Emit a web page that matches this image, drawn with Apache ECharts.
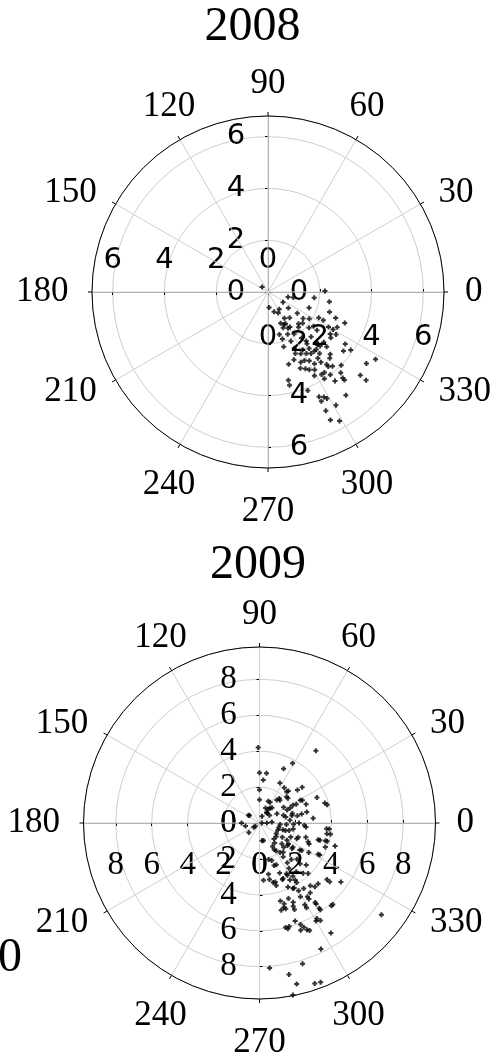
<!DOCTYPE html>
<html><head><meta charset="utf-8">
<script src="https://cdn.jsdelivr.net/npm/echarts@6/dist/echarts.min.js"></script>
<style>html,body{margin:0;padding:0;background:#fff}#c{width:495px;height:1059px}</style>
</head><body><div id="c"></div>
<script>
// ---------- data ----------
const years = ['2008', '2009'];
const angleTickStep = 30;          // degrees between spokes / angle labels
const radialTickStep = 2;          // radial ring step
const rMax2008 = 6.8;
const rMax2009 = 9.8;

const r2008 = [0.3,0.8,1.0,1.8,2.2,2.4,0.6,0.8,1.0,1.7,1.2,1.3,1.7,2.2,2.8,1.3,1.4,1.6,1.8,1.8,2.1,2.2,2.4,2.7,2.9,3.0,3.2,1.7,1.8,1.9,2.9,3.1,1.9,2.1,2.2,2.5,2.8,2.9,3.0,2.2,2.4,2.6,2.7,2.9,3.1,3.6,3.9,3.7,2.6,2.7,2.8,2.9,3.1,3.4,3.5,2.9,2.8,3.0,3.0,3.1,3.3,3.4,3.6,3.8,4.0,4.7,4.9,3.2,3.3,3.4,3.8,4.0,4.2,4.4,4.0,4.3,4.5,4.8,5.1,3.5,3.7,4.1,5.0,4.5,4.6,4.7,4.7,5.1,5.1,5.5,5.7,
  0.9,0.7,2.5,1.4,1.7,1.5,1.6,2.4,2.4,2.7,2.9,2.9,3.2,3.7,3.5,3.8,0.8,1.4,1.9,2.4,3.7];
const theta2008 = [139,346,348,353,1,351,274,287,322,339,302,310,323,333,339,292,299,302,311,318,319,323,322,330,330,333,338,285,295,302,326,328,287,295,306,307,313,318,324,286,295,301,306,310,317,326,325,322,294,298,302,305,310,315,313,286,291,295,298,301,303,307,309,311,315,324,328,293,296,298,305,307,312,311,303,307,311,318,318,283,283,292,307,296,298,299,296,301,296,296,299,
  296,326,342,296,314,293,299,308,314,314,314,308,307,309,301,303,303,324,327,333,299];

const r2009 = [4.2,5.1,3.8,3.3,2.8,2.8,2.4,2.5,2.4,3.1,2.8,2.3,1.85,1.3,1.75,2.1,3.5,3.8,3.9,2.7,1.3,1.6,1.0,0.9,1.6,2.1,0.7,1.5,1.9,2.4,3.0,0.4,0.75,1.0,0.8,0.8,0.4,
  1.1,1.5,1.9,2.5,3.9,3.8,3.5,3.9,4.4,3.9,3.0,3.2,3.8,1.0,1.2,1.1,1.5,1.8,1.7,2.0,2.3,2.1,1.9,2.3,2.8,2.2,2.5,3.2,2.9,3.4,3.6,3.4,3.3,4.1,5.1,5.6,6.1,8.5,5.4,5.9,6.3,7.3,7.8,8.2,8.1,8.6,9.2,9.5,9.45,9.75,5.8,6.3,6.5,6.0,6.0,4.7,5.0,5.0,4.7,5.4,4.9,
  2.4,1.3,1.7,2.1,0.9,1.1,2.6,2.8,2.7,2.3,1.9,0.7,0.7,1.4,1.85,2.15,0.7,0.3,0.13,0.41,0.69,1.15,1.5,1.9,2.2,2.6,1.7,1.1,1.35,1.7,1.2,1.5,1.4,1.0,1.8,2.25,2.7,1.9,2.0,2.3,2.7,2.9,3.4,3.7,3.8,4.0,3.75,2.5,2.3,2.7,2.7,3.0,2.9,3.2,3.5,3.9,3.7,3.4,3.75,3.6,3.9,4.1,4.35,4.4,4.8,4.7,4.7,4.9,4.5,4.5,4.9,4.5,4.8,5.2,5.2,5.05,5.5,5.8,6.2,6.4,6.1,5.0,6.1,6.1,6.4,6.6,
  2.0,1.7,2.1,3.2,3.4,3.35,3.0,3.2,3.5,3.9,1.1,1.7];
const theta2009 = [91,52,61,66,90,82,85,63,55,40,41,49,90,90,51,41,24,17,15,28,68,53,55,68,33,28,52,13,16,12,5,70,145,180,192,222,217,
  347,344,350,357,355,351,344,345,343,340,337,329,332,283,312,328,299,301,317,321,324,309,336,340,327,288,289,274,280,283,285,292,298,297,320,324,311,323,305,305,300,303,296,287,274,281,283,291,289,281,290,293,294,284,286,287,287,292,299,299,303,
  48,63,48,44,58,51,29,22,13,27,26,56,38,18,13,11,143,218,0,0,5,356,357,358,0,355,5,339,344,346,321,328,307,278,328,337,343,315,324,322,326,339,344,332,345,351,355,292,305,305,311,303,316,315,318,314,311,307,302,298,294,298,300,304,306,311,314,320,309,285,286,291,293,292,299,303,305,305,301,302,312,284,285,292,291,295,
  305,299,284,280,285,293,292,298,302,302,28,25];

// ---------- layout / style ----------
const plots = [
  { center: [268, 292], radius: 176, rMax: rMax2008, r: r2008, t: theta2008,
    title: [252.5, 27], labelFont: 'DejaVu Sans', labelSize: 29,
    // radial-label axes: start angle and perpendicular margin (signed)
    labelAxes: [[0, -45], [90, 32], [180, -32], [270, 31]] },
  { center: [259.5, 823], radius: 176, rMax: rMax2009, r: r2009, t: theta2009,
    title: [258, 565], labelFont: 'Liberation Serif', labelSize: 33,
    labelAxes: [[0, -42], [90, 31], [180, 42], [270, -31]] }
];
const angleFont = 'Liberation Serif', angleSize = 35, angleMargin = 21;
// label box [width, lineHeight] per angle label, positions the text round the circle
const angleBox = {0:[17.5,35],30:[35,1],60:[1,29],90:[35,22],120:[1,29],150:[54,1],180:[57.5,35],210:[54,2],240:[1,45],270:[52.5,46],300:[1,45],330:[52.5,2]};

const rich = {};
Object.keys(angleBox).forEach(k => {
  rich['a' + k] = { fontFamily: angleFont, fontSize: angleSize, color: '#000',
    width: angleBox[k][0], lineHeight: angleBox[k][1], align: 'center' };
});

const polar = [], angleAxis = [], radiusAxis = [], series = [], graphic = [];
plots.forEach((p, pi) => {
  p.labelAxes.forEach(([start, margin], ai) => {
    const idx = polar.length;
    const main = ai === 0;
    polar.push({ center: p.center, radius: p.radius });
    angleAxis.push({
      polarIndex: idx, type: 'value', min: 0, max: 360, interval: angleTickStep,
      startAngle: start, clockwise: false, show: main, z: main ? 3 : 1,
      axisLine: { show: main, lineStyle: { color: '#000', width: 1 } },
      axisTick: { show: main, length: 4, lineStyle: { color: '#000', width: 1 } },
      splitLine: { show: main, lineStyle: { color: '#cfcfcf', width: 1 } },
      axisLabel: { show: main, margin: angleMargin,
        formatter: v => '{a' + v + '|' + v + '}', rich: rich }
    });
    radiusAxis.push({
      polarIndex: idx, type: 'value', min: 0, max: p.rMax, interval: radialTickStep,
      z: 2,
      axisLine: { show: true, lineStyle: { color: '#999', width: 1 } },
      axisTick: { show: true, length: 3, lineStyle: { color: '#000', width: 1 } },
      splitLine: { show: main, lineStyle: { color: '#cfcfcf', width: 1 } },
      axisLabel: { show: true, margin: margin, align: 'center', verticalAlign: 'middle',
        showMaxLabel: false, fontFamily: p.labelFont, fontSize: p.labelSize, color: '#000',
        formatter: v => (Math.abs(v - Math.round(v)) < 1e-6 ? String(v) : '') }
    });
  });
  series.push({
    type: 'scatter', coordinateSystem: 'polar', polarIndex: pi * 4, z: 5,
    symbol: 'path://M0,1.5H1.5V0H3.5V1.5H5V3.5H3.5V5H1.5V3.5H0Z', symbolSize: 5,
    itemStyle: { color: '#000' }, silent: true, animation: false,
    data: p.r.map((rv, i) => [rv, p.t[i]])
  });
  graphic.push({ type: 'text', x: p.title[0], y: p.title[1],
    style: { text: years[pi], font: '48px "Liberation Serif"', fill: '#000',
      textAlign: 'center', textVerticalAlign: 'middle', align: 'center', verticalAlign: 'middle' } });
});
graphic.push({ type: 'text', x: 10, y: 958,
  style: { text: '0', font: '48px "Liberation Serif"', fill: '#000',
    textAlign: 'center', textVerticalAlign: 'middle', align: 'center', verticalAlign: 'middle' } });

const chart = echarts.init(document.getElementById('c'), null, { renderer: 'canvas' });
chart.setOption({ animation: false, backgroundColor: '#fff', polar, angleAxis, radiusAxis, series, graphic });
</script></body></html>
